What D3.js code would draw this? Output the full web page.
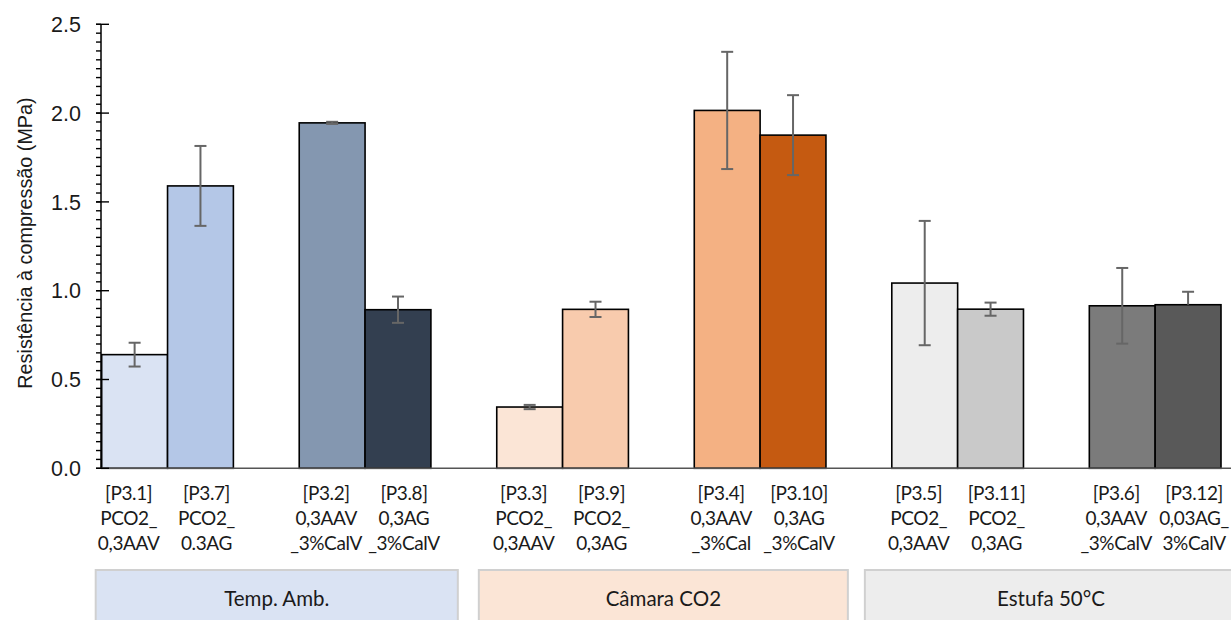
<!DOCTYPE html>
<html>
<head>
<meta charset="utf-8">
<script src="https://cdn.jsdelivr.net/npm/d3@7"></script>
<style>
  html, body { margin: 0; padding: 0; background: #fff; }
  svg { display: block; }
</style>
</head>
<body>
<svg id="chart" width="1231" height="620"></svg>
<script>
// Curing conditions (one per pair of groups)
const conditions = ["Temp. Amb.", "Câmara CO2", "Estufa 50°C"];

// Six groups, two mixes each
const groups = ["TA_PCO2", "TA_CalV", "CC_PCO2", "CC_CalV", "E_PCO2", "E_CalV"];

// Mix labels, one entry per bar (three lines each)
const mixLabels = [
  ["[P3.1]", "PCO2_", "0,3AAV"],
  ["[P3.7]", "PCO2_", "0.3AG"],
  ["[P3.2]", "0,3AAV", "_3%CalV"],
  ["[P3.8]", "0,3AG", "_3%CalV"],
  ["[P3.3]", "PCO2_", "0,3AAV"],
  ["[P3.9]", "PCO2_", "0,3AG"],
  ["[P3.4]", "0,3AAV", "_3%Cal"],
  ["[P3.10]", "0,3AG", "_3%CalV"],
  ["[P3.5]", "PCO2_", "0,3AAV"],
  ["[P3.11]", "PCO2_", "0,3AG"],
  ["[P3.6]", "0,3AAV", "_3%CalV"],
  ["[P3.12]", "0,03AG_", "3%CalV"]
];

// Compressive strength (MPa), mean per mix
const strength = [0.64, 1.59, 1.945, 0.893, 0.345, 0.895, 2.015, 1.876, 1.043, 0.896, 0.915, 0.921];
// Error bar extents below / above the mean (MPa)
const errMinus = [0.067, 0.225, 0.006, 0.074, 0.012, 0.043, 0.33, 0.225, 0.35, 0.037, 0.213, 0.0];
const errPlus  = [0.067, 0.225, 0.006, 0.074, 0.012, 0.043, 0.33, 0.225, 0.35, 0.037, 0.213, 0.073];

const barColors = ["#dae3f3", "#b4c7e7", "#8497b0", "#333f50",
                   "#fbe5d6", "#f8cbad", "#f4b183", "#c55a11",
                   "#ededed", "#c9c9c9", "#7b7b7b", "#595959"];
const conditionColors = ["#dae3f3", "#fbe5d6", "#ededed"];

const yTicks = [0, 0.5, 1.0, 1.5, 2.0, 2.5];

const rows = strength.map((v, i) => ({
  i, value: v, lo: errMinus[i], hi: errPlus[i],
  group: groups[Math.floor(i / 2)], sub: i % 2,
  label: mixLabels[i], color: barColors[i]
}));

const svg = d3.select("#chart");
const axisX = 101;
const plotRight = 1221;

const y = d3.scaleLinear().domain([0, 2.5]).range([468.3, 24.3]);
const x = d3.scaleBand().domain(groups).range([101.7, plotRight])
  .paddingInner(1 / 3).paddingOuter(0);
const xs = d3.scaleBand().domain([0, 1]).range([0, x.bandwidth()]).padding(0);

const axisFont = "'Liberation Sans', Arial, sans-serif";
const labelFont = "Lato, 'Open Sans', sans-serif";

// Bars
svg.append("g").selectAll("rect").data(rows).join("rect")
  .attr("x", d => x(d.group) + xs(d.sub))
  .attr("y", d => y(d.value))
  .attr("width", xs.bandwidth())
  .attr("height", d => y(0) - y(d.value))
  .attr("fill", d => d.color)
  .attr("stroke", "#000")
  .attr("stroke-width", 1.6);

// Error bars
const eb = svg.append("g").attr("stroke", "#666").attr("stroke-width", 2).attr("fill", "none");
rows.forEach(d => {
  const cx = x(d.group) + xs(d.sub) + xs.bandwidth() / 2;
  const top = y(d.value + d.hi), bot = y(d.value - d.lo);
  eb.append("line").attr("x1", cx).attr("x2", cx).attr("y1", top).attr("y2", bot);
  eb.append("line").attr("x1", cx - 6).attr("x2", cx + 6).attr("y1", top).attr("y2", top);
  if (d.lo > 0) eb.append("line").attr("x1", cx - 6).attr("x2", cx + 6).attr("y1", bot).attr("y2", bot);
});

// X axis baseline
svg.append("line")
  .attr("x1", axisX).attr("x2", 1231)
  .attr("y1", y(0)).attr("y2", y(0))
  .attr("stroke", "#555").attr("stroke-width", 1.5);

// Y axis: minor ticks outside, major ticks crossing the line
const yAxis = svg.append("g");
const minor = d3.range(0, 2.5001, 0.05);
yAxis.selectAll("line.minor").data(minor).join("line")
  .attr("class", "minor")
  .attr("x1", axisX - 5).attr("x2", axisX)
  .attr("y1", d => y(d)).attr("y2", d => y(d))
  .attr("stroke", "#000").attr("stroke-width", 1.4);
yAxis.selectAll("line.major").data(yTicks).join("line")
  .attr("class", "major")
  .attr("x1", axisX - 5).attr("x2", axisX + 8)
  .attr("y1", d => y(d)).attr("y2", d => y(d))
  .attr("stroke", "#000").attr("stroke-width", 1.4);
yAxis.append("line")
  .attr("x1", axisX).attr("x2", axisX)
  .attr("y1", y(2.5)).attr("y2", y(0))
  .attr("stroke", "#000").attr("stroke-width", 1.5);
yAxis.selectAll("text").data(yTicks).join("text")
  .attr("x", 81).attr("y", d => y(d))
  .attr("dy", "0.36em")
  .attr("text-anchor", "end")
  .attr("font-family", axisFont).attr("font-size", 21.5)
  .attr("fill", "#1a1a1a")
  .text(d => d3.format(".1f")(d));

// Y axis title
svg.append("text")
  .attr("transform", `translate(32,${243}) rotate(-90)`)
  .attr("text-anchor", "middle")
  .attr("font-family", axisFont).attr("font-size", 19.8)
  .attr("fill", "#1a1a1a")
  .text("Resistência à compressão (MPa)");

// Mix labels under each bar; the two labels of a pair lean apart a little
const lab = svg.append("g")
  .attr("font-family", labelFont).attr("font-size", 19)
  .attr("letter-spacing", -0.4)
  .attr("fill", "#1a1a1a").attr("text-anchor", "middle");
rows.forEach(d => {
  const cx = x(d.group) + xs(d.sub) + xs.bandwidth() / 2 + (d.sub === 0 ? -6 : 6);
  const t = lab.append("text").attr("x", cx).attr("y", 500);
  d.label.forEach((line, k) => {
    t.append("tspan").attr("x", cx).attr("y", 500 + k * 25).text(line);
  });
});

// Curing-condition boxes spanning each pair of groups
const gapMid = k => (x(groups[2 * k + 1]) + x.bandwidth() + x(groups[2 * k + 2])) / 2;
const boxes = [
  { x0: x(groups[0]) - 6, x1: gapMid(0) - 6 },
  { x0: gapMid(0) + 15, x1: gapMid(1) - 11 },
  { x0: gapMid(1) + 6, x1: 1240 }
];
const cb = svg.append("g");
boxes.forEach((b, k) => {
  cb.append("rect")
    .attr("x", b.x0).attr("y", 570)
    .attr("width", b.x1 - b.x0).attr("height", 60)
    .attr("fill", conditionColors[k])
    .attr("stroke", "#d0d0d0").attr("stroke-width", 2);
  cb.append("text")
    .attr("x", k === 2 ? 1051 : (b.x0 + b.x1) / 2).attr("y", 606)
    .attr("text-anchor", "middle")
    .attr("font-family", labelFont).attr("font-size", 20.5)
    .attr("fill", "#1a1a1a")
    .text(conditions[k]);
});
</script>
</body>
</html>
